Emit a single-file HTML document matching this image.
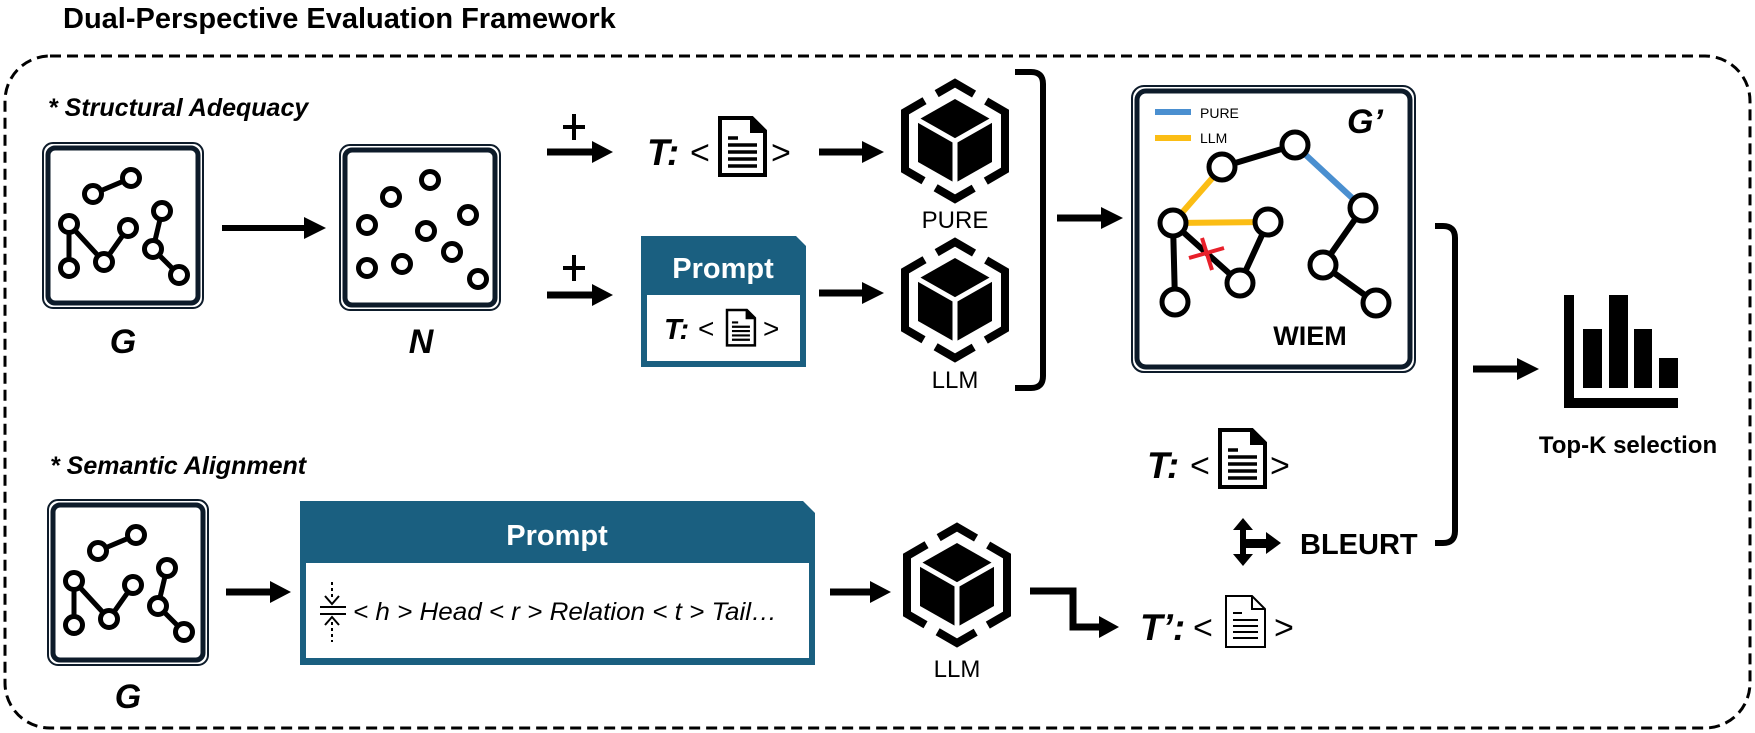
<!DOCTYPE html>
<html><head><meta charset="utf-8"><style>
html,body{margin:0;padding:0;background:#fff;}
svg{display:block;font-family:"Liberation Sans",Arial,sans-serif;}
</style></head><body>
<svg width="1755" height="733" viewBox="0 0 1755 733" xmlns="http://www.w3.org/2000/svg">
<defs>
  <g id="cube">
    <path d="M0,-58 L50,-29 L50,29 L0,58 L-50,29 L-50,-29 Z" fill="none" stroke="#000" stroke-width="8" stroke-dasharray="22 14 102 14 44 14 102 14 22" stroke-linejoin="miter"/>
    <path d="M0,-42 L37,-21 L37,21 L0,42 L-37,21 L-37,-21 Z" fill="#000"/>
    <path d="M-37,-21 L0,0 L37,-21 M0,0 L0,42" stroke="#fff" stroke-width="5" fill="none"/>
  </g>
  <g id="doc">
    <path d="M0,0 H32 L45,13 V57 H0 Z" fill="#fff" stroke="#000" stroke-width="4"/>
    <path d="M30,0 V15 H45 Z" fill="#000"/>
    <path d="M8,20 H18 M8,27 H37 M8,34 H37 M8,41 H37 M8,48 H37" stroke="#000" stroke-width="3.5"/>
  </g>
  <g id="docthin">
    <path d="M0,0 H26 L39,13 V51 H0 Z" fill="#fff" stroke="#000" stroke-width="2"/>
    <path d="M26,0 V13 H39" fill="none" stroke="#000" stroke-width="2"/>
    <path d="M7,17 H16 M7,24 H32 M7,30 H32 M7,36 H32 M7,42 H32" stroke="#000" stroke-width="2"/>
  </g>
  <g id="gbox">
    <rect x="0" y="0" width="160" height="165" rx="10" fill="#fff" stroke="#0d1b2a" stroke-width="2"/>
    <rect x="5" y="5" width="150" height="155" rx="7" fill="#fff" stroke="#0d1b2a" stroke-width="5"/>
  </g>
  <g id="graph" stroke="#000" stroke-width="5" fill="#fff">
    <path d="M50,51 L88,35 M26,81 L26,125 M26,81 L61,119 L85,85 M119,68 L110,106 L136,132" fill="none"/>
    <circle cx="50" cy="51" r="8.5"/><circle cx="88" cy="35" r="8.5"/>
    <circle cx="26" cy="81" r="8.5"/><circle cx="85" cy="85" r="8.5"/>
    <circle cx="61" cy="119" r="8.5"/><circle cx="26" cy="125" r="8.5"/>
    <circle cx="119" cy="68" r="8.5"/><circle cx="110" cy="106" r="8.5"/>
    <circle cx="136" cy="132" r="8.5"/>
  </g>
</defs>

<!-- title -->
<text x="63" y="28" font-size="29" font-weight="bold">Dual-Perspective Evaluation Framework</text>
<!-- dashed frame -->
<rect x="5" y="56" width="1745" height="672" rx="45" fill="none" stroke="#000" stroke-width="3" stroke-dasharray="11 6"/>

<!-- Structural Adequacy -->
<text x="48" y="116" font-size="25" font-weight="bold" font-style="italic">* Structural Adequacy</text>
<use href="#gbox" x="43" y="143"/>
<use href="#graph" x="43" y="143"/>
<text x="123" y="353" font-size="34" font-weight="bold" font-style="italic" text-anchor="middle">G</text>

<line x1="222" y1="228" x2="306" y2="228" stroke="#000" stroke-width="6"/>
<polygon points="326,228 304,217 304,239" fill="#000"/>

<use href="#gbox" x="340" y="145"/>
<g stroke="#000" stroke-width="5" fill="#fff">
  <circle cx="430" cy="180" r="8.5"/><circle cx="391" cy="197" r="8.5"/><circle cx="468" cy="215" r="8.5"/>
  <circle cx="367" cy="225" r="8.5"/><circle cx="426" cy="231" r="8.5"/><circle cx="452" cy="252" r="8.5"/>
  <circle cx="367" cy="268" r="8.5"/><circle cx="402" cy="264" r="8.5"/><circle cx="478" cy="279" r="8.5"/>
</g>
<text x="421" y="353" font-size="34" font-weight="bold" font-style="italic" text-anchor="middle">N</text>

<!-- plus arrows -->
<g stroke="#000" stroke-width="4"><path d="M563,127 H585 M574,114 V140 M563,268 H585 M574,255 V281"/></g>
<line x1="547" y1="152" x2="596" y2="152" stroke="#000" stroke-width="7"/>
<polygon points="613,152 592,141 592,163" fill="#000"/>
<line x1="547" y1="295" x2="596" y2="295" stroke="#000" stroke-width="7"/>
<polygon points="613,295 592,284 592,306" fill="#000"/>

<text x="647" y="165" font-size="37" font-weight="bold" font-style="italic">T:</text>
<text x="690" y="164" font-size="34">&lt;</text>
<use href="#doc" x="720" y="118"/>
<text x="771" y="164" font-size="34">&gt;</text>

<!-- small prompt -->
<path d="M641,236 H796 L806,246 V367 H641 Z" fill="#1a5f80"/>
<rect x="647" y="295" width="153" height="66" fill="#fff"/>
<text x="723" y="278" font-size="29" font-weight="bold" fill="#fff" text-anchor="middle">Prompt</text>
<text x="664" y="339" font-size="29" font-weight="bold" font-style="italic">T:</text>
<text x="698" y="338" font-size="28">&lt;</text>
<g transform="translate(727,310) scale(0.62)"><use href="#doc"/></g>
<text x="763" y="338" font-size="28">&gt;</text>

<!-- arrows to models -->
<line x1="819" y1="152" x2="866" y2="152" stroke="#000" stroke-width="7"/>
<polygon points="884,152 862,141 862,163" fill="#000"/>
<line x1="819" y1="293" x2="866" y2="293" stroke="#000" stroke-width="7"/>
<polygon points="884,293 862,282 862,304" fill="#000"/>

<use href="#cube" x="955" y="141"/>
<text x="955" y="228" font-size="24" text-anchor="middle">PURE</text>
<use href="#cube" x="955" y="300"/>
<text x="955" y="388" font-size="24" text-anchor="middle">LLM</text>

<!-- bracket 1 -->
<path d="M1015,72 H1031 Q1043,72 1043,84 V376 Q1043,388 1031,388 H1015" fill="none" stroke="#000" stroke-width="6"/>
<line x1="1057" y1="218" x2="1104" y2="218" stroke="#000" stroke-width="7"/>
<polygon points="1123,218 1101,207 1101,229" fill="#000"/>

<!-- WIEM box -->
<rect x="1132" y="86" width="283" height="286" rx="12" fill="#fff" stroke="#0d1b2a" stroke-width="2"/>
<rect x="1137" y="91" width="273" height="276" rx="9" fill="#fff" stroke="#0d1b2a" stroke-width="5"/>
<line x1="1155" y1="112" x2="1191" y2="112" stroke="#4a8fd0" stroke-width="6"/>
<text x="1200" y="118" font-size="14">PURE</text>
<line x1="1155" y1="138" x2="1191" y2="138" stroke="#fbbd14" stroke-width="6"/>
<text x="1200" y="143" font-size="14">LLM</text>
<g fill="none" stroke-width="6">
  <path d="M1222,167 L1295,145 M1173,223 L1175,302 M1173,223 L1240,283 M1268,222 L1240,283 M1363,208 L1323,265 L1376,303" stroke="#000"/>
  <path d="M1173,223 L1222,167 M1173,223 L1268,222" stroke="#fbbd14"/>
  <path d="M1295,145 L1363,208" stroke="#4a8fd0"/>
</g>
<g stroke="#000" stroke-width="5" fill="#fff">
  <circle cx="1222" cy="167" r="13"/><circle cx="1295" cy="145" r="13"/>
  <circle cx="1173" cy="223" r="13"/><circle cx="1268" cy="222" r="13"/>
  <circle cx="1175" cy="302" r="13"/><circle cx="1240" cy="283" r="13"/>
  <circle cx="1363" cy="208" r="13"/><circle cx="1323" cy="265" r="13"/>
  <circle cx="1376" cy="303" r="13"/>
</g>
<path d="M1189,258 L1224,248 M1202,238 L1212,270" stroke="#e8202a" stroke-width="4"/>
<text x="1347" y="133" font-size="34" font-weight="bold" font-style="italic">G’</text>
<text x="1310" y="345" font-size="27" font-weight="bold" text-anchor="middle">WIEM</text>

<!-- bracket 2 -->
<path d="M1435,226 H1443 Q1455,226 1455,238 V531 Q1455,543 1443,543 H1435" fill="none" stroke="#000" stroke-width="6"/>
<line x1="1473" y1="369" x2="1520" y2="369" stroke="#000" stroke-width="7"/>
<polygon points="1539,369 1517,358 1517,380" fill="#000"/>

<!-- chart -->
<path d="M1564,295 H1574 V398 H1678 V408 H1564 Z" fill="#000"/>
<rect x="1583" y="329" width="19" height="59" fill="#000"/>
<rect x="1609" y="295" width="19" height="93" fill="#000"/>
<rect x="1634" y="329" width="18" height="59" fill="#000"/>
<rect x="1659" y="358" width="19" height="30" fill="#000"/>
<text x="1628" y="453" font-size="24" font-weight="bold" text-anchor="middle">Top-K selection</text>

<!-- T reference -->
<text x="1147" y="478" font-size="37" font-weight="bold" font-style="italic">T:</text>
<text x="1190" y="477" font-size="34">&lt;</text>
<use href="#doc" x="1220" y="430"/>
<text x="1270" y="477" font-size="34">&gt;</text>

<!-- BLEURT -->
<line x1="1243" y1="528" x2="1243" y2="558" stroke="#000" stroke-width="6"/>
<polygon points="1243,518 1233,530 1253,530" fill="#000"/>
<polygon points="1243,566 1233,554 1253,554" fill="#000"/>
<rect x="1246" y="539" width="22" height="9" fill="#000"/>
<polygon points="1281,543 1266,532 1266,554" fill="#000"/>
<text x="1300" y="554" font-size="29" font-weight="bold">BLEURT</text>

<!-- Semantic Alignment -->
<text x="50" y="474" font-size="25" font-weight="bold" font-style="italic">* Semantic Alignment</text>
<use href="#gbox" x="48" y="500"/>
<use href="#graph" x="48" y="500"/>
<text x="128" y="708" font-size="34" font-weight="bold" font-style="italic" text-anchor="middle">G</text>

<line x1="226" y1="592" x2="272" y2="592" stroke="#000" stroke-width="7"/>
<polygon points="291,592 270,581 270,603" fill="#000"/>

<path d="M300,501 H803 L815,513 V665 H300 Z" fill="#1a5f80"/>
<rect x="306" y="563" width="503" height="95" fill="#fff"/>
<text x="557" y="545" font-size="29" font-weight="bold" fill="#fff" text-anchor="middle">Prompt</text>
<g stroke="#000" stroke-width="2" fill="none">
  <path d="M332,582 V600 M332,622 V642" stroke-dasharray="3 3"/>
  <path d="M320,607 H346 M320,614 H346"/>
  <path d="M325,596 L332,604 L339,596 M325,625 L332,617 L339,625"/>
</g>
<text x="353" y="620" font-size="25" font-style="italic" textLength="424" lengthAdjust="spacingAndGlyphs">&lt; h &gt; Head &lt; r &gt; Relation &lt; t &gt; Tail…</text>

<line x1="830" y1="592" x2="872" y2="592" stroke="#000" stroke-width="7"/>
<polygon points="891,592 870,581 870,603" fill="#000"/>

<use href="#cube" x="957" y="585"/>
<text x="957" y="677" font-size="24" text-anchor="middle">LLM</text>

<polyline points="1030,591 1073,591 1073,627 1102,627" fill="none" stroke="#000" stroke-width="7"/>
<polygon points="1119,627 1099,616 1099,638" fill="#000"/>

<text x="1140" y="640" font-size="37" font-weight="bold" font-style="italic">T’:</text>
<text x="1193" y="639" font-size="34">&lt;</text>
<use href="#docthin" x="1226" y="596"/>
<text x="1274" y="639" font-size="34">&gt;</text>
</svg>
</body></html>
